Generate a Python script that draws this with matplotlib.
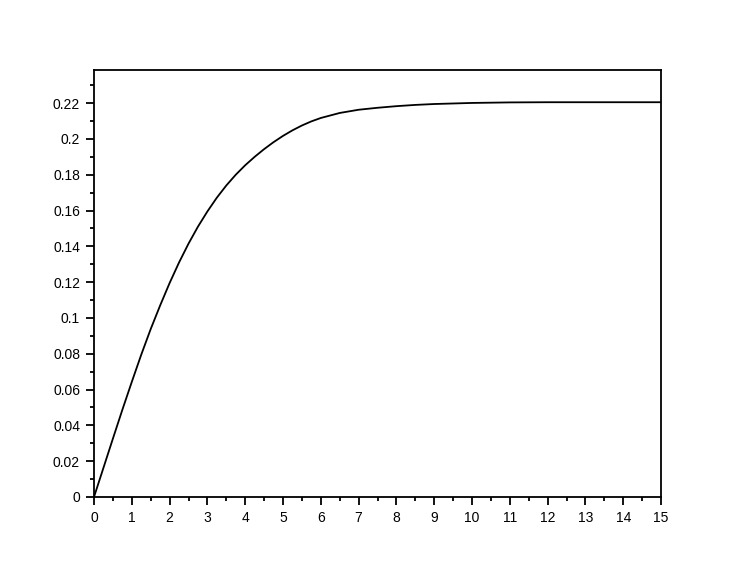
import numpy as np
import matplotlib
matplotlib.use("Agg")
from matplotlib import pyplot as plt
from matplotlib.ticker import MultipleLocator

# values
t = [0, 0.25, 0.5, 0.75, 1, 1.25, 1.5, 1.75, 2, 2.25, 2.5, 2.75, 3, 3.25, 3.5,
     3.75, 4, 4.25, 4.5, 4.75, 5, 5.25, 5.5, 5.75, 6, 6.5, 7, 7.5, 8, 8.5, 9,
     10, 11, 12, 13, 14, 15]
y = [0, 0.0163, 0.0326, 0.0487, 0.0643, 0.0795, 0.0938, 0.1070, 0.1195, 0.1310,
     0.1415, 0.1510, 0.1595, 0.1672, 0.1740, 0.1800, 0.1853, 0.1900, 0.1943,
     0.1982, 0.2017, 0.2048, 0.2075, 0.2098, 0.2117, 0.2145, 0.2163, 0.2174,
     0.2183, 0.2190, 0.2195, 0.2201, 0.2204, 0.2205, 0.2205, 0.2205, 0.2205]

xticks = list(range(0, 16))
yticks = [0, 0.02, 0.04, 0.06, 0.08, 0.1, 0.12, 0.14, 0.16, 0.18, 0.2, 0.22]
ylabels = ["0", "0.02", "0.04", "0.06", "0.08", "0.1", "0.12", "0.14", "0.16", "0.18", "0.2", "0.22"]

plt.rcParams['font.family'] = ['Liberation Sans', 'DejaVu Sans']

fig = plt.figure(figsize=(7.56, 5.70), dpi=100)
ax = fig.add_axes([94/756, 1 - 497/570, (661 - 94)/756, (497 - 70)/570])

ax.plot(t, y, color='black', lw=1.3, solid_joinstyle='round')

ax.set_xlim(0, 15)
ax.set_ylim(0, 0.2385)
ax.set_xticks(xticks)
ax.set_xticklabels([str(v) for v in xticks])
ax.set_yticks(yticks)
ax.set_yticklabels(ylabels)
ax.xaxis.set_minor_locator(MultipleLocator(0.5))
ax.yaxis.set_minor_locator(MultipleLocator(0.01))

ax.tick_params(which='both', direction='out', top=False, right=False,
               width=1.3, labelsize=10, colors='black')
ax.tick_params(which='major', length=6, pad=4)
ax.tick_params(which='minor', length=3)
for s in ax.spines.values():
    s.set_linewidth(1.3)

fig.savefig("out.png", dpi=100)
